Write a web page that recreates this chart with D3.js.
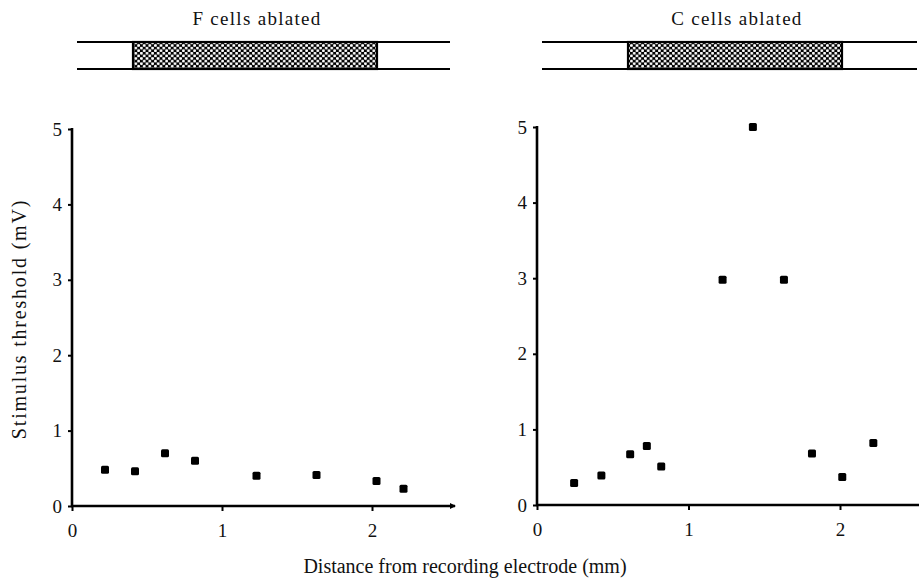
<!DOCTYPE html>
<html>
<head>
<meta charset="utf-8">
<script src="https://cdn.jsdelivr.net/npm/d3@7"></script>
<style>
  body { margin: 0; background: #fff; }
  text { font-family: "Liberation Serif", "Times New Roman", serif; fill: #111; }
</style>
</head>
<body>
<svg width="919" height="580"></svg>
<script>
// data
const panelTitles = ["F cells ablated", "C cells ablated"];
const fDist = [0.22, 0.42, 0.62, 0.82, 1.23, 1.63, 2.03, 2.21];
const fThresh = [0.48, 0.46, 0.70, 0.60, 0.40, 0.41, 0.33, 0.23];
const cDist = [0.245, 0.425, 0.615, 0.725, 0.82, 1.225, 1.425, 1.63, 1.815, 2.015, 2.22];
const cThresh = [0.29, 0.39, 0.67, 0.78, 0.51, 2.98, 5.0, 2.98, 0.68, 0.37, 0.82];
const xTicks = [0, 1, 2];
const yTicks = [0, 1, 2, 3, 4, 5];

const svg = d3.select("svg");

// crosshatch fill for the ablated region
const defs = svg.append("defs");
const pat = defs.append("pattern")
    .attr("id", "hatch")
    .attr("patternUnits", "userSpaceOnUse")
    .attr("width", 5.6).attr("height", 5.2);
pat.append("rect").attr("width", 5.6).attr("height", 5.2).attr("fill", "#000");
pat.append("circle").attr("cx", 1.4).attr("cy", 1.3).attr("r", 1.45).attr("fill", "#fff");
pat.append("circle").attr("cx", 4.2).attr("cy", 3.9).attr("r", 1.45).attr("fill", "#fff");

const panels = [
  { x0: 72, x2: 372, y0: 506, y5: 129, nerve: [77, 450], rect: [133, 377], dist: fDist, thr: fThresh },
  { x0: 537, x2: 840, y0: 505, y5: 127, nerve: [542, 917], rect: [628, 842], dist: cDist, thr: cThresh }
];

panels.forEach(function(p, i) {
  let x = d3.scaleLinear().domain([0, 2]).range([p.x0, p.x2]);
  let y = d3.scaleLinear().domain([0, 5]).range([p.y0, p.y5]);
  let g = svg.append("g");

  // title and nerve diagram
  g.append("text")
      .attr("x", i ? 737 : 257)
      .attr("y", 25)
      .attr("text-anchor", "middle")
      .style("font-size", "19px")
      .style("letter-spacing", "1.3px")
      .text(panelTitles[i]);

  [42, 69].forEach(function(yy) {
    g.append("line")
        .attr("x1", p.nerve[0]).attr("x2", p.nerve[1])
        .attr("y1", yy).attr("y2", yy)
        .attr("stroke", "#000").attr("stroke-width", 2.2);
  });
  g.append("rect")
      .attr("x", p.rect[0]).attr("y", 42)
      .attr("width", p.rect[1] - p.rect[0]).attr("height", 27)
      .attr("fill", "url(#hatch)")
      .attr("stroke", "#000").attr("stroke-width", 2.2);

  // y axis
  let yAxis = g.append("g")
      .attr("transform", "translate(" + p.x0 + ",0)")
      .call(d3.axisLeft(y).tickValues(yTicks).tickSize(4).tickPadding(6).tickFormat(d3.format("d")));
  yAxis.select(".domain").attr("d", "M0," + (y(5) - 1) + "V" + (y(0) + 1)).attr("stroke-width", 2.6);
  yAxis.selectAll(".tick line").attr("stroke-width", 2);
  yAxis.selectAll(".tick text").style("font-size", "19px").attr("fill", "#111");

  // x axis
  let xEnd = i ? 919 : 455;
  let xAxis = g.append("g")
      .attr("transform", "translate(0," + p.y0 + ")")
      .call(d3.axisBottom(x).tickValues(xTicks).tickSize(5).tickPadding(13).tickFormat(d3.format("d")));
  xAxis.select(".domain").attr("d", "M" + (p.x0 - 1) + ",0H" + xEnd).attr("stroke-width", 2.6);
  xAxis.selectAll(".tick line").attr("stroke-width", 2);
  xAxis.selectAll(".tick text").style("font-size", "19px").attr("fill", "#111");
  if (!i) {
    g.append("path")
        .attr("d", "M" + (xEnd - 5) + "," + (p.y0 - 3) + "L" + (xEnd + 1) + "," + p.y0 + "L" + (xEnd - 5) + "," + (p.y0 + 3) + "Z")
        .attr("fill", "#000");
  }

  // points
  g.selectAll("rect.pt")
    .data(d3.zip(p.dist, p.thr))
    .join("rect")
      .attr("class", "pt")
      .attr("x", d => x(d[0]) - 4)
      .attr("y", d => y(d[1]) - 4)
      .attr("width", 8).attr("height", 8)
      .attr("rx", 1.5)
      .attr("fill", "#000");
});

// axis titles
svg.append("text")
    .attr("transform", "translate(26,319) rotate(-90)")
    .attr("text-anchor", "middle")
    .style("font-size", "20px")
    .style("letter-spacing", "1.8px")
    .text("Stimulus threshold (mV)");

svg.append("text")
    .attr("x", 465).attr("y", 573)
    .attr("text-anchor", "middle")
    .style("font-size", "20px")
    .text("Distance from recording electrode (mm)");
</script>
</body>
</html>
